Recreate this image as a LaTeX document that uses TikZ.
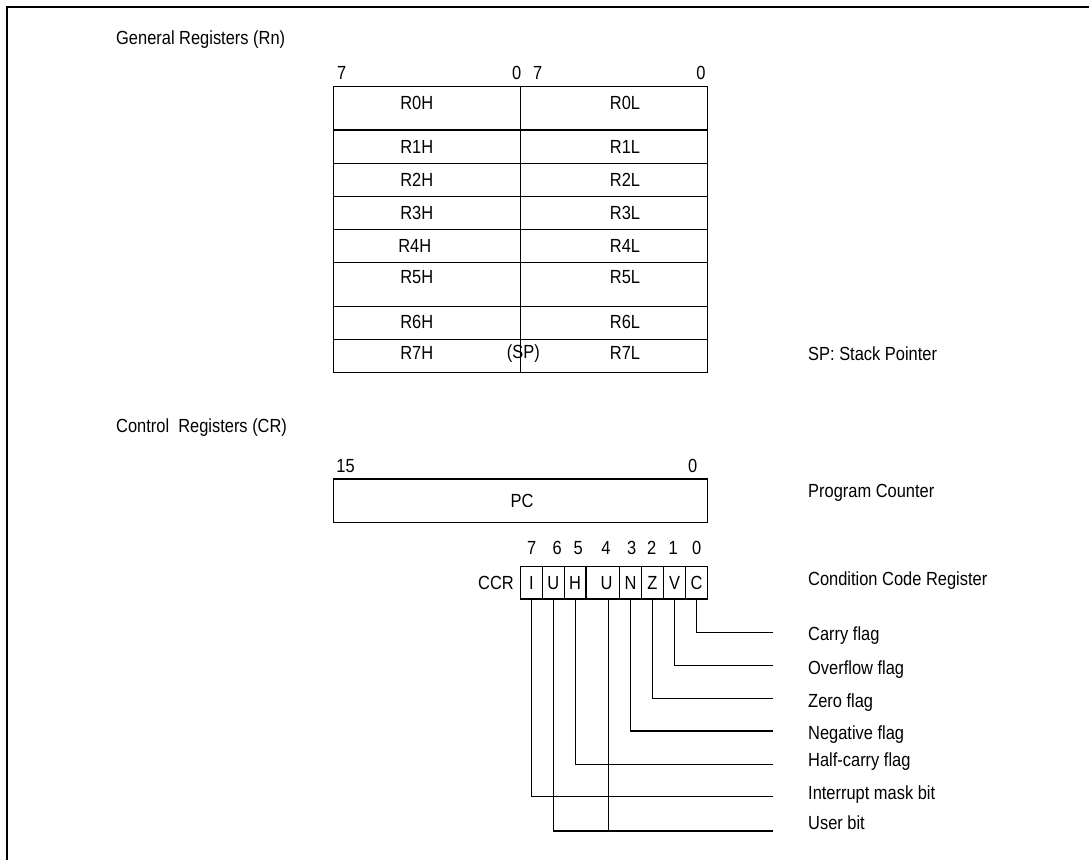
\documentclass[tikz,border=0pt]{standalone}
\usepackage{fontspec}
\setmainfont{Liberation Sans}[FakeStretch=0.865]
\begin{document}
\begin{tikzpicture}[x=1pt,y=-1pt,
  every node/.style={inner sep=0pt,font=\fontsize{19}{22}\selectfont},
  grid/.style={line width=1.4pt},
  wire/.style={line width=1.3pt},
  frame/.style={line width=2.8pt},
  bitbox/.style={draw,line width=1.3pt,minimum height=32.3pt,inner sep=0pt},
  lbl/.style={anchor=west}]
\useasboundingbox (0,0) rectangle (1089,859);
% outer frame
\draw[frame] (7,862) -- (7,7) -- (1092,7);

% headings
\node[anchor=west] (hgen) at (116,40) {General Registers (Rn)};
\node[anchor=west] (hctl) at (116,428) {Control\ \ Registers (CR)};

% general register table
\draw[grid] (333.3,86.7) rectangle (707.3,372.3);
\draw[grid] (520.3,86.7) -- (520.3,372.3);
\foreach \yy in {130,163.3,196.7,229.3,262.3,306.7,339.3}
  \draw[grid] (333.3,\yy) -- (707.3,\yy);

\node (n7a) at (341.7,72.7) {7};
\node (n0a) at (516.7,72.7) {0};
\node (n7b) at (537.7,72.7) {7};
\node (n0b) at (701,72.7) {0};

\node (r0h) at (416.7,103) {R0H};   \node (r0l) at (625,103) {R0L};
\node (r1h) at (416.7,146.7) {R1H}; \node (r1l) at (625,146.7) {R1L};
\node (r2h) at (416.7,180) {R2H};   \node (r2l) at (625,180) {R2L};
\node (r3h) at (416.7,213.3) {R3H}; \node (r3l) at (625,213.3) {R3L};
\node (r4h) at (414.7,245.5) {R4H}; \node (r4l) at (625,245.5) {R4L};
\node (r5h) at (416.7,276.7) {R5H}; \node (r5l) at (625,276.7) {R5L};
\node (r6h) at (416.7,321.7) {R6H}; \node (r6l) at (625,321.7) {R6L};
\node (r7h) at (416.7,353.3) {R7H}; \node (r7l) at (625,353.3) {R7L};
\node (sp) at (523.3,353.3) {(SP)};
\node[lbl] (spl) at (808,354) {SP: Stack Pointer};

% PC
\node (n15) at (345.5,466) {15};
\node (n0c) at (692.7,466) {0};
\node[draw,line width=1.4pt,minimum width=374pt,minimum height=43.3pt] (pc) at (520.3,500.65) {};
\node (pct) at (522,501) {PC};
\node[lbl] (pcl) at (808,493.3) {Program Counter};

% CCR
\node[anchor=east] (ccr) at (514,582.7) {CCR};
\node[bitbox,minimum width=22pt]   (b7) at (531.3,582.85) {I};
\node[bitbox,minimum width=22pt]   (b6) at (553.3,582.85) {U};
\node[bitbox,minimum width=21.7pt] (b5) at (575.15,582.85) {H};
\node[bitbox,minimum width=33.3pt] (b4) at (602.65,582.85) {\hspace*{8pt}U};
\node[bitbox,minimum width=22.4pt] (b3) at (630.5,582.85) {N};
\node[bitbox,minimum width=21.6pt] (b2) at (652.5,582.85) {Z};
\node[bitbox,minimum width=22.4pt] (b1) at (674.5,582.85) {V};
\node[bitbox,minimum width=21.6pt] (b0) at (696.5,582.85) {C};
\node[lbl] (ccrl) at (808,580.7) {Condition Code Register};

\node (i7) at (531.7,548.3) {7};
\node (i6) at (557.3,548.3) {6};
\node (i5) at (578.3,548.3) {5};
\node (i4) at (606,548.3) {4};
\node (i3) at (631.7,548.3) {3};
\node (i2) at (651.7,548.3) {2};
\node (i1) at (673.3,548.3) {1};
\node (i0) at (696.7,548.3) {0};

% connector ends
\coordinate (e0) at (773,632.7);
\coordinate (e1) at (773,665.3);
\coordinate (e2) at (773,698.3);
\coordinate (e3) at (773,731);
\coordinate (e5) at (773,764.3);
\coordinate (e7) at (773,796.7);
\coordinate (e6) at (773,831);

\draw[wire] (b0.south) |- (e0);
\draw[wire] (b1.south) |- (e1);
\draw[wire] (b2.south) |- (e2);
\draw[wire] (b3.south) |- (e3);
\draw[wire] (b5.south) |- (e5);
\draw[wire] (b7.south) |- (e7);
\draw[wire] (b6.south) |- (e6);
\draw[wire] ([xshift=5.6pt]b4.south) |- (e6);

\node[lbl] (l0) at (808,635.7) {Carry flag};
\node[lbl] (l1) at (808,669.3) {Overflow flag};
\node[lbl] (l2) at (808,702.3) {Zero flag};
\node[lbl] (l3) at (808,735) {Negative flag};
\node[lbl] (l5) at (808,761.7) {Half-carry flag};
\node[lbl] (l7) at (808,795) {Interrupt mask bit};
\node[lbl] (l6) at (808,822.7) {User bit};
\end{tikzpicture}
\end{document}
